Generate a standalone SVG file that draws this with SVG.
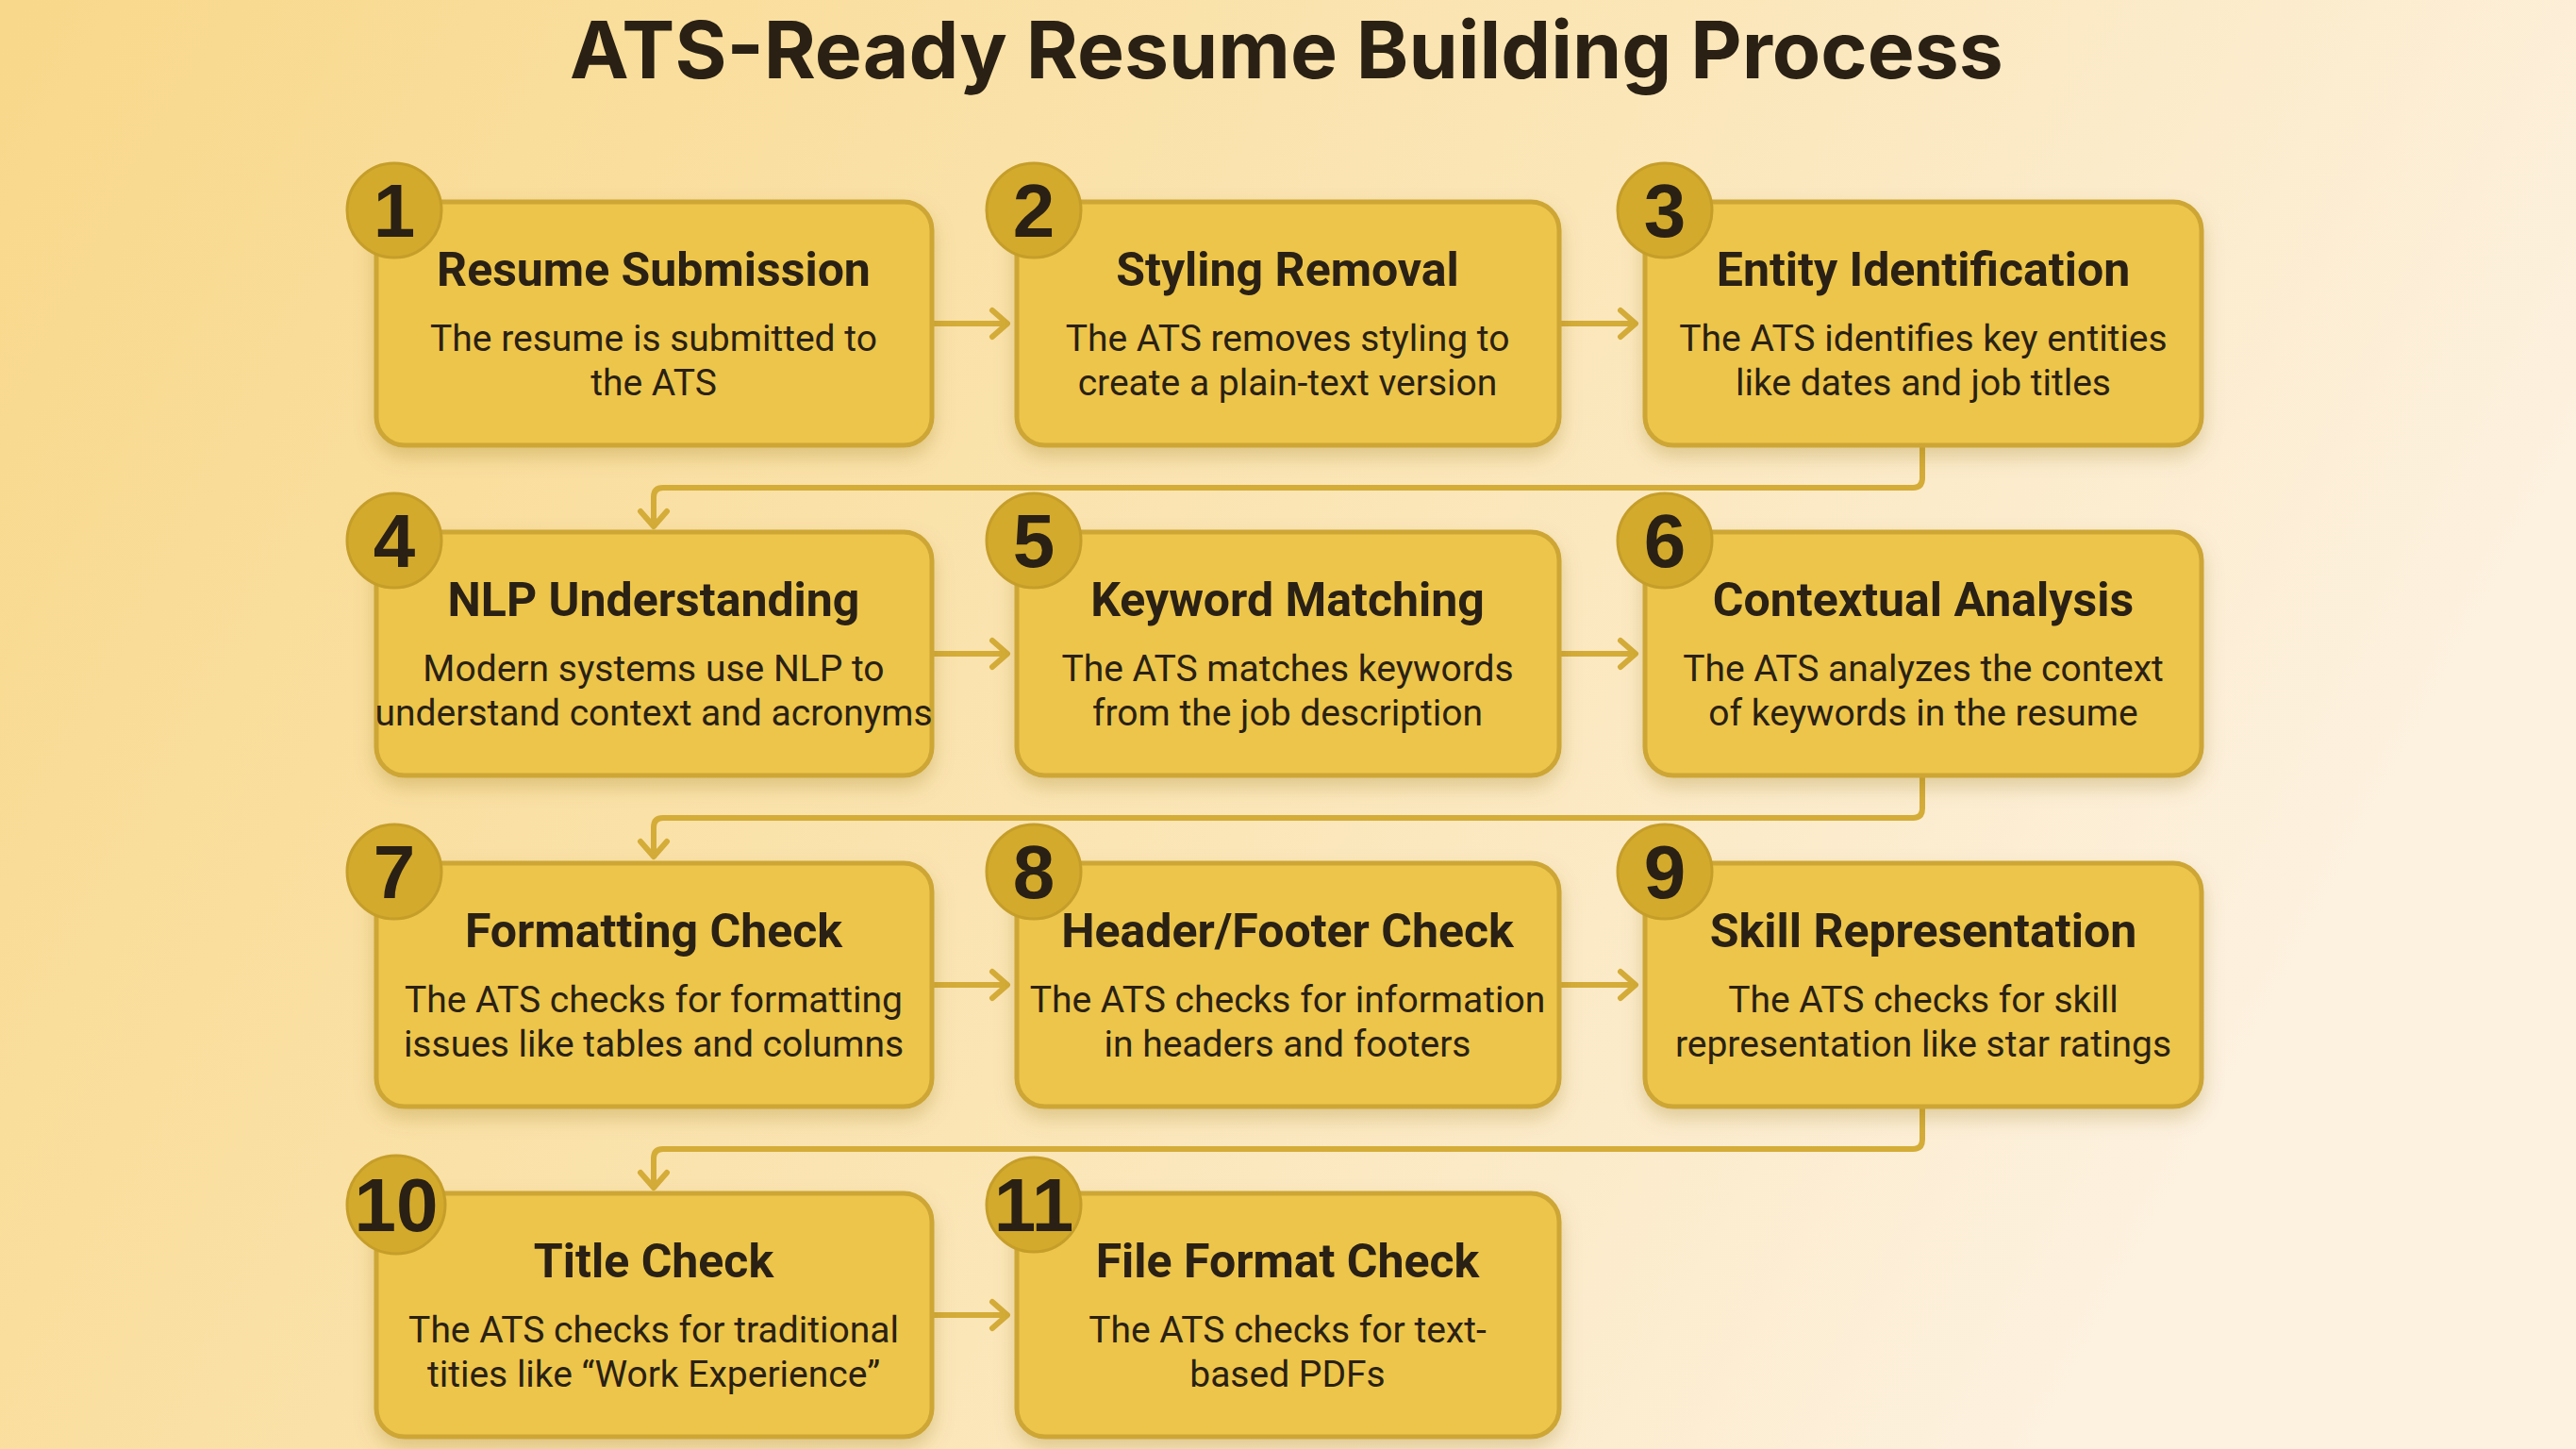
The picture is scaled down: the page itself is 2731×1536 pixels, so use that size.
<svg xmlns="http://www.w3.org/2000/svg" width="2731" height="1536" viewBox="0 0 2731 1536">
<defs>
<linearGradient id="bg" x1="0" y1="0" x2="1" y2="0.3">
<stop offset="0" stop-color="#F8D88A"/><stop offset="0.6" stop-color="#FBE6B8"/><stop offset="1" stop-color="#FDF1DF"/>
</linearGradient>
<filter id="sh" x="-10%" y="-10%" width="125%" height="135%"><feDropShadow dx="0" dy="10" stdDeviation="10" flood-color="#8a6a10" flood-opacity="0.25"/></filter>
<style>
.box{fill:#EDC54B;stroke:#CDA635;stroke-width:5;filter:url(#sh)}
.bd{fill:#D4AA2C;stroke:#C59E2A;stroke-width:3}
.num{font-family:"Liberation Sans",Arial,sans-serif;font-weight:bold;font-size:80px;fill:#2A2114;text-anchor:middle}
.t{font-family:Roboto,"Liberation Sans",sans-serif;font-weight:bold;font-size:50px;fill:#2A2114;text-anchor:middle}
.d{font-family:Roboto,"Liberation Sans",sans-serif;font-size:39px;fill:#2A2114;text-anchor:middle}
.c{fill:none;stroke:#D4AC38;stroke-width:6;stroke-linejoin:round}
.hd{stroke:#D4AC38;stroke-width:6;fill:none;stroke-linecap:round;stroke-linejoin:round}
</style>
</defs>
<rect width="2731" height="1536" fill="url(#bg)"/>
<text x="1364" y="83" font-family="Inter,'Noto Sans',sans-serif" font-weight="bold" font-size="84" fill="#2A2114" text-anchor="middle">ATS-Ready Resume Building Process</text>

<g id="connectors">
<path class="c" d="M988,343 H1066"/><path class="hd" d="M1052,329 L1068,343 L1052,357"/>
<path class="c" d="M1653,343 H1732"/><path class="hd" d="M1718,329 L1734,343 L1718,357"/>
<path class="c" d="M988,693 H1066"/><path class="hd" d="M1052,679 L1068,693 L1052,707"/>
<path class="c" d="M1653,693 H1732"/><path class="hd" d="M1718,679 L1734,693 L1718,707"/>
<path class="c" d="M988,1044 H1066"/><path class="hd" d="M1052,1030 L1068,1044 L1052,1058"/>
<path class="c" d="M1653,1044 H1732"/><path class="hd" d="M1718,1030 L1734,1044 L1718,1058"/>
<path class="c" d="M988,1394 H1066"/><path class="hd" d="M1052,1380 L1068,1394 L1052,1408"/>
<path class="c" d="M2038,472 V507 Q2038,517 2028,517 H703 Q693,517 693,527 V556"/><path class="hd" d="M679,542 L693,558 L707,542"/>
<path class="c" d="M2038,822 V857 Q2038,867 2028,867 H703 Q693,867 693,877 V906"/><path class="hd" d="M679,892 L693,908 L707,892"/>
<path class="c" d="M2038,1173 V1208 Q2038,1218 2028,1218 H703 Q693,1218 693,1228 V1257"/><path class="hd" d="M679,1243 L693,1259 L707,1243"/>
</g>

<g id="n1"><rect class="box" x="399" y="214" width="589" height="258" rx="30"/><circle class="bd" cx="418" cy="223" r="50"/><text class="num" x="418" y="251">1</text>
<text class="t" x="693" y="303">Resume Submission</text><text class="d" x="693" y="372">The resume is submitted to</text><text class="d" x="693" y="419">the ATS</text></g>
<g id="n2"><rect class="box" x="1078" y="214" width="575" height="258" rx="30"/><circle class="bd" cx="1096" cy="223" r="50"/><text class="num" x="1096" y="251">2</text>
<text class="t" x="1365" y="303">Styling Removal</text><text class="d" x="1365" y="372">The ATS removes styling to</text><text class="d" x="1365" y="419">create a plain-text version</text></g>
<g id="n3"><rect class="box" x="1744" y="214" width="590" height="258" rx="30"/><circle class="bd" cx="1765" cy="223" r="50"/><text class="num" x="1765" y="251">3</text>
<text class="t" x="2039" y="303">Entity Identification</text><text class="d" x="2039" y="372">The ATS identifies key entities</text><text class="d" x="2039" y="419">like dates and job titles</text></g>

<g id="n4"><rect class="box" x="399" y="564" width="589" height="258" rx="30"/><circle class="bd" cx="418" cy="573" r="50"/><text class="num" x="418" y="601">4</text>
<text class="t" x="693" y="653">NLP Understanding</text><text class="d" x="693" y="722">Modern systems use NLP to</text><text class="d" x="693" y="769">understand context and acronyms</text></g>
<g id="n5"><rect class="box" x="1078" y="564" width="575" height="258" rx="30"/><circle class="bd" cx="1096" cy="573" r="50"/><text class="num" x="1096" y="601">5</text>
<text class="t" x="1365" y="653">Keyword Matching</text><text class="d" x="1365" y="722">The ATS matches keywords</text><text class="d" x="1365" y="769">from the job description</text></g>
<g id="n6"><rect class="box" x="1744" y="564" width="590" height="258" rx="30"/><circle class="bd" cx="1765" cy="573" r="50"/><text class="num" x="1765" y="601">6</text>
<text class="t" x="2039" y="653">Contextual Analysis</text><text class="d" x="2039" y="722">The ATS analyzes the context</text><text class="d" x="2039" y="769">of keywords in the resume</text></g>

<g id="n7"><rect class="box" x="399" y="915" width="589" height="258" rx="30"/><circle class="bd" cx="418" cy="924" r="50"/><text class="num" x="418" y="952">7</text>
<text class="t" x="693" y="1004">Formatting Check</text><text class="d" x="693" y="1073">The ATS checks for formatting</text><text class="d" x="693" y="1120">issues like tables and columns</text></g>
<g id="n8"><rect class="box" x="1078" y="915" width="575" height="258" rx="30"/><circle class="bd" cx="1096" cy="924" r="50"/><text class="num" x="1096" y="952">8</text>
<text class="t" x="1365" y="1004">Header/Footer Check</text><text class="d" x="1365" y="1073">The ATS checks for information</text><text class="d" x="1365" y="1120">in headers and footers</text></g>
<g id="n9"><rect class="box" x="1744" y="915" width="590" height="258" rx="30"/><circle class="bd" cx="1765" cy="924" r="50"/><text class="num" x="1765" y="952">9</text>
<text class="t" x="2039" y="1004">Skill Representation</text><text class="d" x="2039" y="1073">The ATS checks for skill</text><text class="d" x="2039" y="1120">representation like star ratings</text></g>

<g id="n10"><rect class="box" x="399" y="1265" width="589" height="258" rx="30"/><circle class="bd" cx="420" cy="1277" r="52"/><text class="num" x="420" y="1305">10</text>
<text class="t" x="693" y="1354">Title Check</text><text class="d" x="693" y="1423">The ATS checks for traditional</text><text class="d" x="693" y="1470">tities like “Work Experience”</text></g>
<g id="n11"><rect class="box" x="1078" y="1265" width="575" height="258" rx="30"/><circle class="bd" cx="1096" cy="1277" r="50"/><text class="num" x="1096" y="1305">11</text>
<text class="t" x="1365" y="1354">File Format Check</text><text class="d" x="1365" y="1423">The ATS checks for text-</text><text class="d" x="1365" y="1470">based PDFs</text></g>
</svg>
